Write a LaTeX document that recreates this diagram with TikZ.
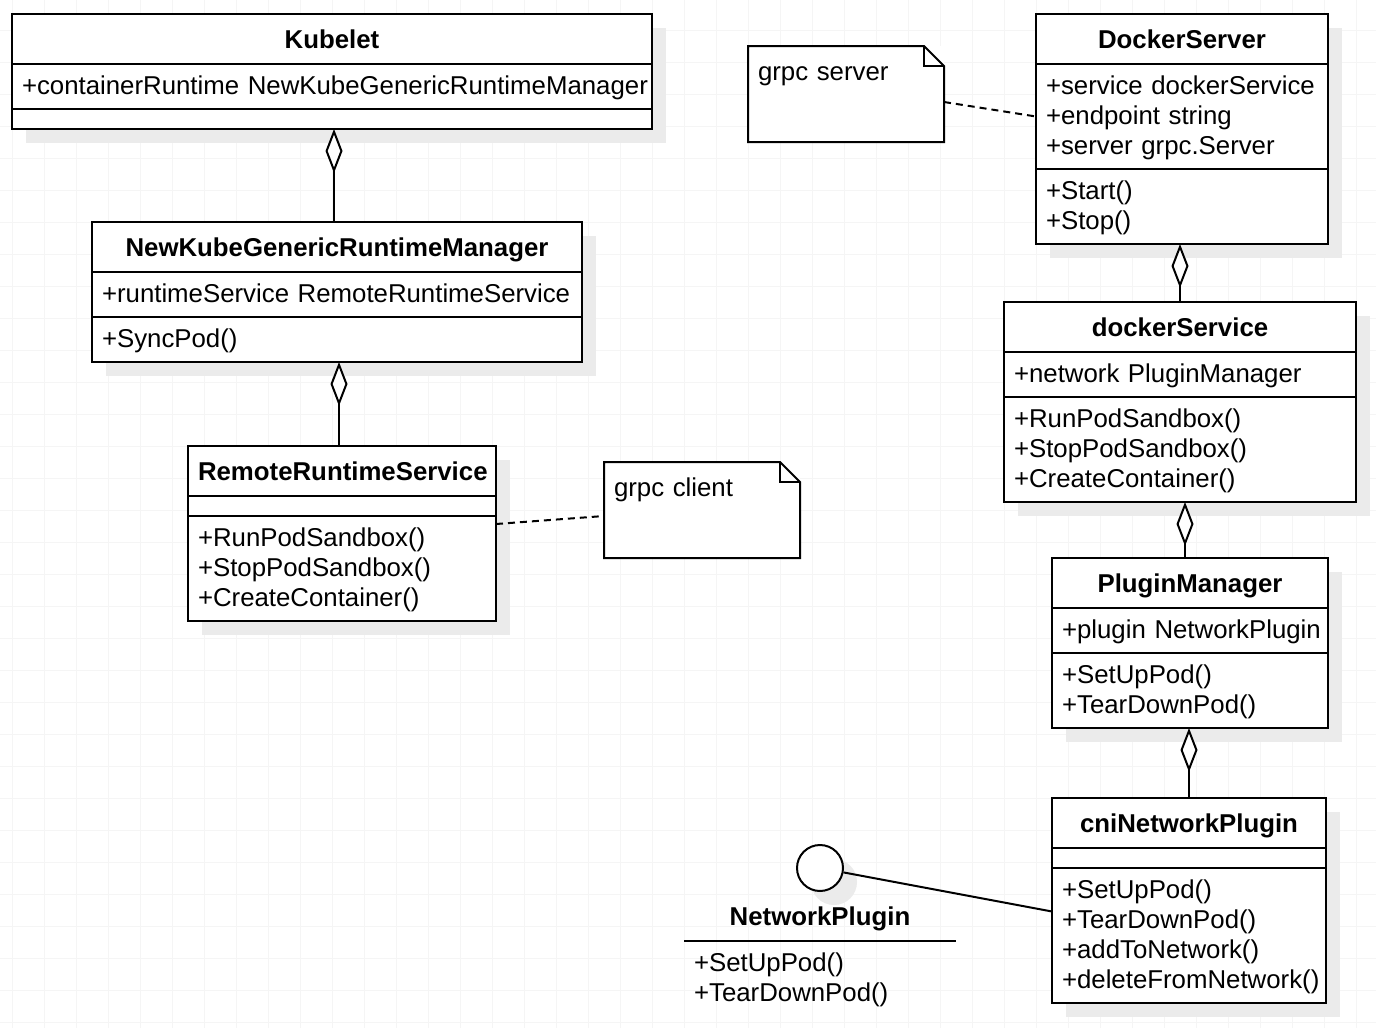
\documentclass[tikz,border=0pt]{standalone}
\usepackage{fontspec}
\setmainfont{Liberation Sans}
\usetikzlibrary{arrows.meta,positioning,shadows}
\hyphenpenalty=10000
\exhyphenpenalty=10000

\begin{document}
\begin{tikzpicture}[x=1pt,y=-1pt,line width=2pt,line join=miter,
  every node/.style={font=\fontsize{25.8}{30}\selectfont},
  gridline/.style={line width=1pt,draw=black!4},
  boxshadow/.style={drop shadow={shadow xshift=14pt,shadow yshift=-14pt,fill=black!8,opacity=1}},
  umltext/.style={outer sep=0pt,inner xsep=10pt,text width=#1},
  umlbox/.style={umltext=#1,draw,fill=white,boxshadow},
  rowstrut/.style={align=left,inner ysep=7.5pt,
    execute at begin node={\rule[-7pt]{0pt}{30pt}},execute at end node={\rule[-7pt]{0pt}{30pt}}},
  umlhead/.style={umlbox=#1,align=center,inner ysep=10pt,font=\fontsize{25.8}{30}\selectfont\bfseries,
    execute at begin node={\rule[-6pt]{0pt}{30pt}}},
  umlrows/.style={umlbox=#1,rowstrut},
  umlempty/.style={umlbox=#1,inner ysep=0pt,minimum height=20pt},
  note/.style={fill=white,outer sep=0pt,inner xsep=10pt,inner ysep=11pt,text width=176pt,align=left,
    text height=23pt,text depth=51pt,anchor=north west},
  agg/.style={-{Diamond[fill=white,length=44pt,width=17pt]}},
  noteline/.style={dash pattern=on 7pt off 5pt}]
\useasboundingbox (0,0) rectangle (1376,1028);
\fill[white] (0,0) rectangle (1376,1028);
% background grid
\foreach \gx in {12,44,...,1364} \draw[gridline] (\gx,0) -- (\gx,1028);
\foreach \gy in {30,62,...,1022} \draw[gridline] (0,\gy) -- (1376,\gy);

% kubelet side
\node[umlhead=620pt,anchor=north west] (kubelet-t) at (12,14) {Kubelet};
\node[umlrows=620pt,below=0pt of kubelet-t] (kubelet-a) {+containerRuntime~NewKubeGenericRuntimeManager};
\node[umlempty=620pt,below=0pt of kubelet-a] (kubelet-m) {};

\node[umlhead=470pt,anchor=north west] (nkgrm-t) at (92,222) {NewKubeGenericRuntimeManager};
\node[umlrows=470pt,below=0pt of nkgrm-t] (nkgrm-a) {+runtimeService~RemoteRuntimeService};
\node[umlrows=470pt,below=0pt of nkgrm-a] (nkgrm-m) {+SyncPod()};

\node[umlhead=288pt,anchor=north west] (rrs-t) at (188,446) {RemoteRuntimeService};
\node[umlempty=288pt,below=0pt of rrs-t] (rrs-a) {};
\node[umlrows=288pt,below=0pt of rrs-a] (rrs-m) {+RunPodSandbox()\\+StopPodSandbox()\\+CreateContainer()};

% notes
\node[note] (snote) at (748,46) {grpc server};
\draw (snote.north west) -- ([xshift=-20pt]snote.north east) -- ([yshift=-20pt]snote.north east) -- (snote.south east) -- (snote.south west) -- cycle;
\draw ([xshift=-20pt]snote.north east) |- ([yshift=-20pt]snote.north east);
\node[note] (cnote) at (604,462) {grpc client};
\draw (cnote.north west) -- ([xshift=-20pt]cnote.north east) -- ([yshift=-20pt]cnote.north east) -- (cnote.south east) -- (cnote.south west) -- cycle;
\draw ([xshift=-20pt]cnote.north east) |- ([yshift=-20pt]cnote.north east);

% docker side
\node[umlhead=272pt,anchor=north west] (dsrv-t) at (1036,14) {DockerServer};
\node[umlrows=272pt,below=0pt of dsrv-t] (dsrv-a) {+service~dockerService\\+endpoint~string\\+server~grpc.Server};
\node[umlrows=272pt,below=0pt of dsrv-a] (dsrv-m) {+Start()\\+Stop()};

\node[umlhead=332pt,anchor=north west] (dsvc-t) at (1004,302) {dockerService};
\node[umlrows=332pt,below=0pt of dsvc-t] (dsvc-a) {+network~PluginManager};
\node[umlrows=332pt,below=0pt of dsvc-a] (dsvc-m) {+RunPodSandbox()\\+StopPodSandbox()\\+CreateContainer()};

\node[umlhead=256pt,anchor=north west] (pm-t) at (1052,558) {PluginManager};
\node[umlrows=256pt,below=0pt of pm-t] (pm-a) {+plugin~NetworkPlugin};
\node[umlrows=256pt,below=0pt of pm-a] (pm-m) {+SetUpPod()\\+TearDownPod()};

\node[umlhead=254pt,anchor=north west] (cni-t) at (1052,798) {cniNetworkPlugin};
\node[umlempty=254pt,below=0pt of cni-t] (cni-a) {};
\node[umlrows=254pt,below=0pt of cni-a] (cni-m) {+SetUpPod()\\+TearDownPod()\\+addToNetwork()\\+deleteFromNetwork()};

% interface
\node[draw,fill=white,circle,minimum size=46pt,inner sep=0pt,boxshadow] (np-c) at (820,868) {};
\node[font=\fontsize{25.8}{30}\selectfont\bfseries] (np-t) at (820,919) {NetworkPlugin};
\node[umltext=252pt,rowstrut,anchor=north west] (np-m) at (684,941) {+SetUpPod()\\+TearDownPod()};
\draw (np-m.north west) -- (np-m.north east);

% connectors
\draw[agg] ([xshift=-3pt]nkgrm-t.north) -- ([xshift=-3pt]nkgrm-t.north |- kubelet-m.south);
\draw[agg] ([xshift=-3pt]rrs-t.north) -- ([xshift=-3pt]rrs-t.north |- nkgrm-m.south);
\draw[agg] (dsvc-t.north) -- (dsvc-t.north |- dsrv-m.south);
\draw[agg] ([xshift=-5pt]pm-t.north) -- ([xshift=-5pt]pm-t.north |- dsvc-m.south);
\draw[agg] (cni-t.north) -- (cni-t.north |- pm-m.south);
\draw[noteline] ([yshift=-8pt]rrs-m.north east) -- ([yshift=-6pt]cnote.west);
\draw[noteline] ([yshift=-8pt]snote.east) -- (dsrv-a.west);
\draw (np-c) -- ([yshift=24pt]cni-m.west);
\end{tikzpicture}
\end{document}
